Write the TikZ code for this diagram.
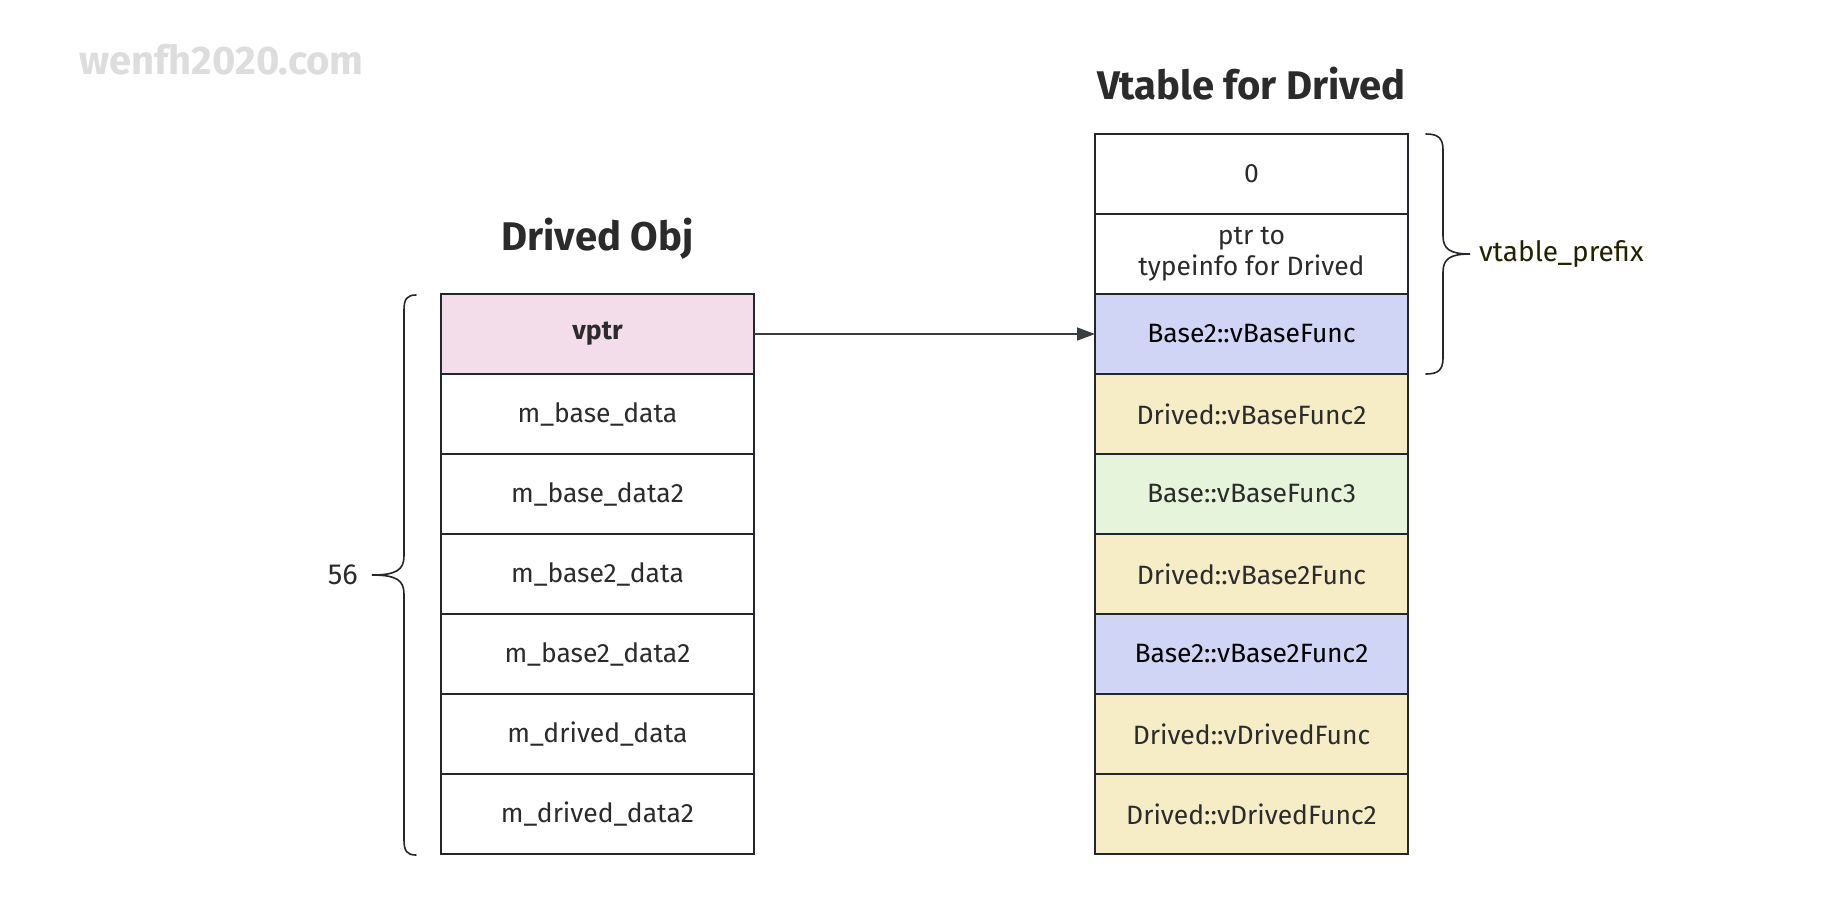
\documentclass[tikz,border=0pt]{standalone}
\usepackage{fontspec}
\setmainfont{Fira Sans}
\usetikzlibrary{arrows.meta}
\definecolor{linec}{HTML}{23272B}
\definecolor{txt}{HTML}{2B2B2B}
\definecolor{pinkc}{HTML}{F4DDEA}
\definecolor{bluec}{HTML}{D1D5F5}
\definecolor{yelc}{HTML}{F6EDC6}
\definecolor{grnc}{HTML}{E6F4DC}
\definecolor{wmark}{HTML}{DDDDDD}
\definecolor{olive}{HTML}{222200}
\begin{document}
\begin{tikzpicture}[x=1pt,y=-1pt,
  cell/.style={draw=linec,line width=2.2pt,minimum width=313pt,minimum height=80pt,
    inner sep=0pt,outer sep=0pt,text=txt,font=\fontsize{26.5}{31}\selectfont,align=center},
  ttl/.style={text=txt,font=\fontsize{40}{46}\selectfont\bfseries,inner sep=0pt},
  brace/.style={draw=linec,line width=1.6pt,line cap=round},
  conn/.style={draw=linec!90!white,line width=1.6pt,-{Triangle[length=18pt,width=13pt]}}]
\useasboundingbox (0,0) rectangle (1838,906);
\node[text=wmark,font=\fontsize{40}{46}\selectfont\bfseries,anchor=west,inner sep=0pt] (wm) at (79,60) {wenfh2020.com};
\node[ttl] (t1) at (597.5,239) {Drived Obj};
\node[ttl] (t2) at (1251.5,84) {Vtable for Drived};
% object
\node[cell,fill=pinkc,font=\fontsize{26.5}{31}\selectfont\bfseries] (o1) at (597.5,334) {\raisebox{-2.5pt}{vptr}};
\node[cell] (o2) at (597.5,414) {m\_base\_data};
\node[cell] (o3) at (597.5,494) {m\_base\_data2};
\node[cell] (o4) at (597.5,574) {m\_base2\_data};
\node[cell] (o5) at (597.5,654) {m\_base2\_data2};
\node[cell] (o6) at (597.5,734) {m\_drived\_data};
\node[cell] (o7) at (597.5,814) {m\_drived\_data2};
% vtable
\node[cell] (v1) at (1251.5,174) {0};
\node[cell] (v2) at (1251.5,254) {ptr to\\typeinfo for Drived};
\node[cell,fill=bluec,text=black] (v3) at (1251.5,334) {\raisebox{-1pt}{Base2::vBaseFunc}};
\node[cell,fill=yelc] (v4) at (1251.5,414) {Drived::vBaseFunc2};
\node[cell,fill=grnc] (v5) at (1251.5,494) {Base::vBaseFunc3};
\node[cell,fill=yelc] (v6) at (1251.5,574) {Drived::vBase2Func};
\node[cell,fill=bluec,text=black] (v7) at (1251.5,654) {Base2::vBase2Func2};
\node[cell,fill=yelc] (v8) at (1251.5,734) {Drived::vDrivedFunc};
\node[cell,fill=yelc] (v9) at (1251.5,814) {Drived::vDrivedFunc2};
% arrow
\draw[conn] (o1.east) -- (v3.west);
% left brace
\coordinate (lb) at (372,575);
\draw[brace] (416,295) .. controls (407,295) and (404,299) .. (404,310) -- (404,556)
  .. controls (404,570) and (396,575) .. (lb)
  .. controls (396,575) and (404,580) .. (404,594) -- (404,840)
  .. controls (404,851) and (407,855) .. (416,855);
\node[text=txt,font=\fontsize{29}{34}\selectfont,anchor=east,inner sep=0pt] (n56) at (358,575) {56};
% right brace
\coordinate (rb) at (1470,254);
\draw[brace] (1426,134) .. controls (1438,134) and (1443,138) .. (1443,150) -- (1443,236)
  .. controls (1443,249) and (1450,254) .. (rb)
  .. controls (1450,254) and (1443,259) .. (1443,272) -- (1443,358)
  .. controls (1443,370) and (1438,374) .. (1426,374);
\node[text=olive,font=\fontsize{28}{32}\selectfont,anchor=west,inner sep=0pt] (vp) at (1479,254) {vtable\_prefix};
\end{tikzpicture}
\end{document}
